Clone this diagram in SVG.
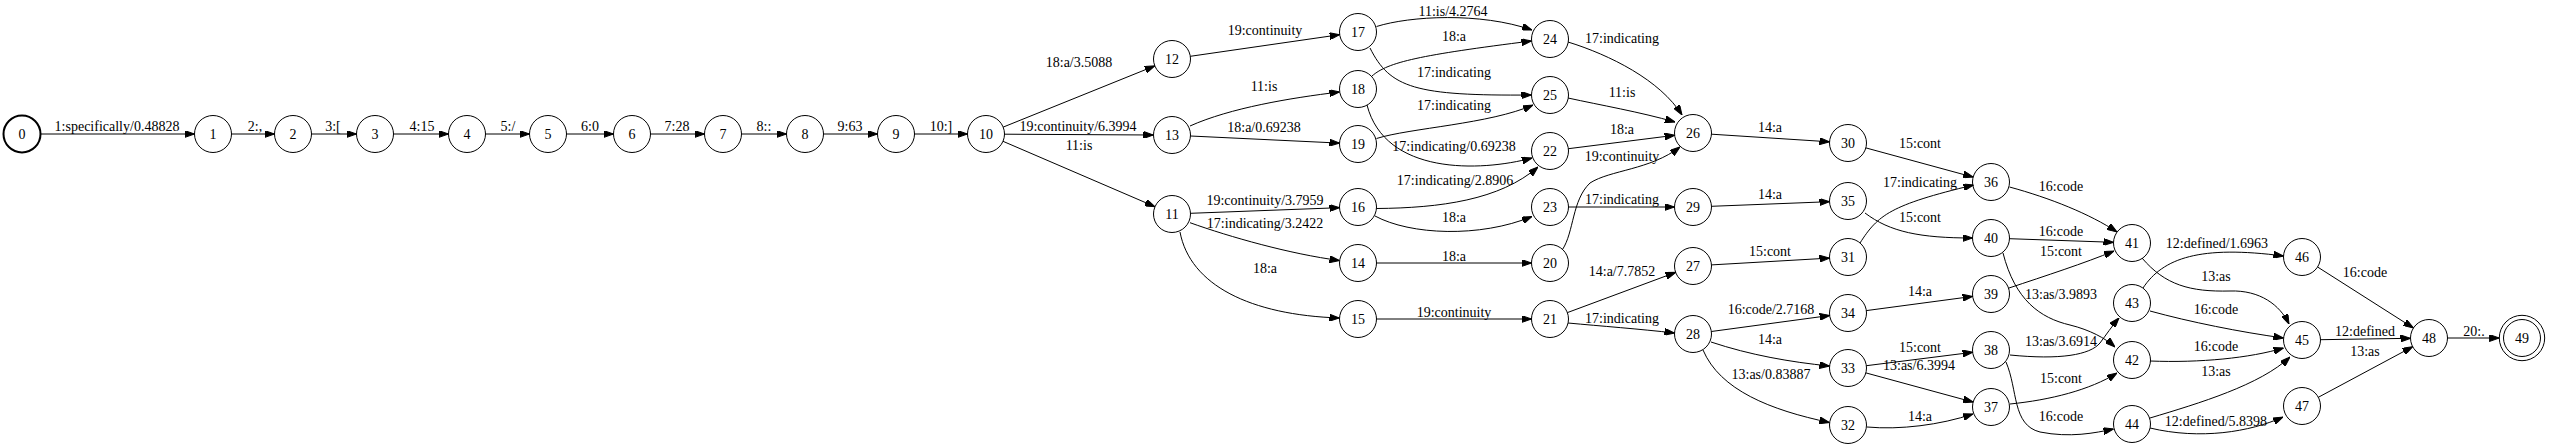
<svg xmlns="http://www.w3.org/2000/svg" width="2550" height="448" viewBox="0 0 2550 448">
<style>
.node circle{fill:none;stroke:#000;stroke-width:1}
.node text,.lbl text{font-family:"Liberation Serif","Times New Roman",serif;font-size:14px;fill:#000;text-anchor:middle}
.edges path{fill:none;stroke:#000;stroke-width:1;marker-end:url(#arr)}
</style>
<defs>
<marker id="arr" viewBox="0 0 10 7" refX="10" refY="3.5" markerWidth="10" markerHeight="7" markerUnits="userSpaceOnUse" orient="auto">
<path d="M0,0 L10,3.5 L0,7 z" fill="#000" stroke="#000" stroke-width="1"/>
</marker>
</defs>
<rect width="2550" height="448" fill="#fff"/>
<g id="edges" class="edges">
<path d="M40.5,134 L194.5,134"/>
<path d="M231.5,134 L274.5,134"/>
<path d="M311.5,134 L356.5,134"/>
<path d="M393.5,134 L448.5,134"/>
<path d="M485.5,134 L529.5,134"/>
<path d="M566.5,134 L613.5,134"/>
<path d="M650.5,134 L704.5,134"/>
<path d="M741.5,134 L786.5,134"/>
<path d="M823.5,134 L877.5,134"/>
<path d="M914.5,134 L967.5,134"/>
<path d="M1003.2,127.1 L1154.8,65.9"/>
<path d="M1004.5,134.2 L1153.5,135"/>
<path d="M1003,141.3 L1155,206.7"/>
<path d="M1190.3,56.3 L1339.7,34.7"/>
<path d="M1190,126 C1230,108 1290,98 1339.5,92"/>
<path d="M1190.5,136 L1339.5,143.1"/>
<path d="M1190.5,213.3 L1339.5,207.7"/>
<path d="M1190,222.7 C1230,237 1290,254 1339.5,260.5"/>
<path d="M1180,232 C1190,285 1250,315 1339.5,318"/>
<path d="M1376.5,26.5 C1410,16 1480,12 1532,30"/>
<path d="M1370,48 C1390,88 1415,96 1531.5,95"/>
<path d="M1372,76 C1388,62 1420,55 1531.5,41"/>
<path d="M1367,105 C1385,175 1480,172 1532,158"/>
<path d="M1376.5,138.5 C1410,128 1490,124 1533,105"/>
<path d="M1376.5,208.5 C1440,208 1500,200 1538,167"/>
<path d="M1375,216 C1410,235 1480,238 1532,216.5"/>
<path d="M1376.5,263 L1531.5,263"/>
<path d="M1376.5,319 L1531.5,319"/>
<path d="M1562.5,249.5 C1574,232 1572,200 1590,183 C1610,170 1650,170 1680,147"/>
<path d="M1568.5,207 L1674.5,207"/>
<path d="M1568.4,148.7 L1674.6,135.3"/>
<path d="M1568,98 C1600,105 1640,112 1675,122"/>
<path d="M1568,42 C1610,55 1660,80 1682,115"/>
<path d="M1711.5,134.2 L1829.5,141.8"/>
<path d="M1711.5,206.3 L1829.5,201.7"/>
<path d="M1567.4,312.6 L1675.6,272.4"/>
<path d="M1568,323 C1600,326 1640,329 1674.5,333"/>
<path d="M1711.5,264.9 L1829.5,258.1"/>
<path d="M1711.3,331.5 L1829.7,315.5"/>
<path d="M1711,342 C1750,355 1790,362 1829.5,366"/>
<path d="M1703,350 C1720,390 1770,410 1829.5,422.5"/>
<path d="M1865.9,147.9 L1973.1,177.1"/>
<path d="M1860,243 C1878,215 1890,205 1973.5,185"/>
<path d="M1865,213 C1890,232 1920,238 1972.5,238"/>
<path d="M1866.3,310.6 L1972.7,296.4"/>
<path d="M1866.4,365.7 L1972.6,352.3"/>
<path d="M1865.9,372.9 L1973.1,402.1"/>
<path d="M1867,427 C1900,430 1940,425 1973,414"/>
<path d="M2009.5,187 C2050,198 2090,214 2117,232"/>
<path d="M2009.5,238.7 L2113.5,242.3"/>
<path d="M2009,288 C2045,276 2085,263 2114,251"/>
<path d="M2003,253 C2015,300 2040,318 2070,325 C2090,330 2105,338 2115,347"/>
<path d="M2010,355 C2060,360 2090,355 2100,343 C2106,335 2112,326 2119,318"/>
<path d="M2006,362 C2018,390 2012,425 2040,432 C2070,438 2095,433 2113.5,429"/>
<path d="M2010,404 C2050,400 2090,390 2117,373"/>
<path d="M2142,258 C2165,285 2190,292 2230,291 C2260,290 2280,305 2289,324"/>
<path d="M2143,288 C2163,258 2200,245 2283.5,256"/>
<path d="M2150,311 C2190,322 2240,332 2283.5,338"/>
<path d="M2150,361 C2200,363 2250,358 2283.5,348"/>
<path d="M2150,418 C2200,403 2260,385 2290,357"/>
<path d="M2150,428 C2200,440 2250,432 2283,417"/>
<path d="M2317.6,267 L2413.4,328"/>
<path d="M2320.5,339.7 L2410.5,338.3"/>
<path d="M2318.3,397.3 L2412.7,346.7"/>
<path d="M2447.5,338 L2499.3,338"/>
</g>
<g id="edge-labels" class="lbl">
<text x="117" y="131">1:specifically/0.48828</text>
<text x="255" y="131">2:,</text>
<text x="333" y="131">3:[</text>
<text x="422" y="131">4:15</text>
<text x="508" y="131">5:/</text>
<text x="590" y="131">6:0</text>
<text x="677" y="131">7:28</text>
<text x="764" y="131">8::</text>
<text x="850" y="131">9:63</text>
<text x="941" y="131">10:]</text>
<text x="1079" y="67">18:a/3.5088</text>
<text x="1078" y="131">19:continuity/6.3994</text>
<text x="1079" y="150">11:is</text>
<text x="1265" y="35">19:continuity</text>
<text x="1264" y="91">11:is</text>
<text x="1264" y="132">18:a/0.69238</text>
<text x="1265" y="205">19:continuity/3.7959</text>
<text x="1265" y="228">17:indicating/3.2422</text>
<text x="1265" y="273">18:a</text>
<text x="1453" y="16">11:is/4.2764</text>
<text x="1454" y="41">18:a</text>
<text x="1454" y="77">17:indicating</text>
<text x="1454" y="110">17:indicating</text>
<text x="1454" y="151">17:indicating/0.69238</text>
<text x="1455" y="185">17:indicating/2.8906</text>
<text x="1454" y="222">18:a</text>
<text x="1454" y="261">18:a</text>
<text x="1454" y="317">19:continuity</text>
<text x="1622" y="43">17:indicating</text>
<text x="1622" y="97">11:is</text>
<text x="1622" y="134">18:a</text>
<text x="1622" y="161">19:continuity</text>
<text x="1622" y="204">17:indicating</text>
<text x="1622" y="276">14:a/7.7852</text>
<text x="1622" y="323">17:indicating</text>
<text x="1770" y="132">14:a</text>
<text x="1770" y="199">14:a</text>
<text x="1770" y="256">15:cont</text>
<text x="1771" y="314">16:code/2.7168</text>
<text x="1770" y="344">14:a</text>
<text x="1771" y="379">13:as/0.83887</text>
<text x="1920" y="148">15:cont</text>
<text x="1920" y="187">17:indicating</text>
<text x="1920" y="222">15:cont</text>
<text x="1920" y="296">14:a</text>
<text x="1920" y="352">15:cont</text>
<text x="1919" y="370">13:as/6.3994</text>
<text x="1920" y="421">14:a</text>
<text x="2061" y="191">16:code</text>
<text x="2061" y="236">16:code</text>
<text x="2061" y="256">15:cont</text>
<text x="2061" y="299">13:as/3.9893</text>
<text x="2061" y="346">13:as/3.6914</text>
<text x="2061" y="383">15:cont</text>
<text x="2061" y="421">16:code</text>
<text x="2217" y="248">12:defined/1.6963</text>
<text x="2216" y="281">13:as</text>
<text x="2216" y="314">16:code</text>
<text x="2216" y="351">16:code</text>
<text x="2216" y="376">13:as</text>
<text x="2216" y="426">12:defined/5.8398</text>
<text x="2365" y="277">16:code</text>
<text x="2365" y="336">12:defined</text>
<text x="2365" y="356">13:as</text>
<text x="2474" y="336">20:.</text>
</g>
<g id="n0" class="node"><circle cx="22" cy="134" r="18.5" style="stroke-width:2"/><text x="22" y="139">0</text></g>
<g id="n1" class="node"><circle cx="213" cy="134" r="18.5"/><text x="213" y="139">1</text></g>
<g id="n2" class="node"><circle cx="293" cy="134" r="18.5"/><text x="293" y="139">2</text></g>
<g id="n3" class="node"><circle cx="375" cy="134" r="18.5"/><text x="375" y="139">3</text></g>
<g id="n4" class="node"><circle cx="467" cy="134" r="18.5"/><text x="467" y="139">4</text></g>
<g id="n5" class="node"><circle cx="548" cy="134" r="18.5"/><text x="548" y="139">5</text></g>
<g id="n6" class="node"><circle cx="632" cy="134" r="18.5"/><text x="632" y="139">6</text></g>
<g id="n7" class="node"><circle cx="723" cy="134" r="18.5"/><text x="723" y="139">7</text></g>
<g id="n8" class="node"><circle cx="805" cy="134" r="18.5"/><text x="805" y="139">8</text></g>
<g id="n9" class="node"><circle cx="896" cy="134" r="18.5"/><text x="896" y="139">9</text></g>
<g id="n10" class="node"><circle cx="986" cy="134" r="18.5"/><text x="986" y="139">10</text></g>
<g id="n12" class="node"><circle cx="1172" cy="59" r="18.5"/><text x="1172" y="64">12</text></g>
<g id="n13" class="node"><circle cx="1172" cy="135" r="18.5"/><text x="1172" y="140">13</text></g>
<g id="n11" class="node"><circle cx="1172" cy="214" r="18.5"/><text x="1172" y="219">11</text></g>
<g id="n17" class="node"><circle cx="1358" cy="32" r="18.5"/><text x="1358" y="37">17</text></g>
<g id="n18" class="node"><circle cx="1358" cy="89" r="18.5"/><text x="1358" y="94">18</text></g>
<g id="n19" class="node"><circle cx="1358" cy="144" r="18.5"/><text x="1358" y="149">19</text></g>
<g id="n16" class="node"><circle cx="1358" cy="207" r="18.5"/><text x="1358" y="212">16</text></g>
<g id="n14" class="node"><circle cx="1358" cy="263" r="18.5"/><text x="1358" y="268">14</text></g>
<g id="n15" class="node"><circle cx="1358" cy="319" r="18.5"/><text x="1358" y="324">15</text></g>
<g id="n24" class="node"><circle cx="1550" cy="39" r="18.5"/><text x="1550" y="44">24</text></g>
<g id="n25" class="node"><circle cx="1550" cy="95" r="18.5"/><text x="1550" y="100">25</text></g>
<g id="n22" class="node"><circle cx="1550" cy="151" r="18.5"/><text x="1550" y="156">22</text></g>
<g id="n23" class="node"><circle cx="1550" cy="207" r="18.5"/><text x="1550" y="212">23</text></g>
<g id="n20" class="node"><circle cx="1550" cy="263" r="18.5"/><text x="1550" y="268">20</text></g>
<g id="n21" class="node"><circle cx="1550" cy="319" r="18.5"/><text x="1550" y="324">21</text></g>
<g id="n26" class="node"><circle cx="1693" cy="133" r="18.5"/><text x="1693" y="138">26</text></g>
<g id="n29" class="node"><circle cx="1693" cy="207" r="18.5"/><text x="1693" y="212">29</text></g>
<g id="n27" class="node"><circle cx="1693" cy="266" r="18.5"/><text x="1693" y="271">27</text></g>
<g id="n28" class="node"><circle cx="1693" cy="334" r="18.5"/><text x="1693" y="339">28</text></g>
<g id="n30" class="node"><circle cx="1848" cy="143" r="18.5"/><text x="1848" y="148">30</text></g>
<g id="n35" class="node"><circle cx="1848" cy="201" r="18.5"/><text x="1848" y="206">35</text></g>
<g id="n31" class="node"><circle cx="1848" cy="257" r="18.5"/><text x="1848" y="262">31</text></g>
<g id="n34" class="node"><circle cx="1848" cy="313" r="18.5"/><text x="1848" y="318">34</text></g>
<g id="n33" class="node"><circle cx="1848" cy="368" r="18.5"/><text x="1848" y="373">33</text></g>
<g id="n32" class="node"><circle cx="1848" cy="425" r="18.5"/><text x="1848" y="430">32</text></g>
<g id="n36" class="node"><circle cx="1991" cy="182" r="18.5"/><text x="1991" y="187">36</text></g>
<g id="n40" class="node"><circle cx="1991" cy="238" r="18.5"/><text x="1991" y="243">40</text></g>
<g id="n39" class="node"><circle cx="1991" cy="294" r="18.5"/><text x="1991" y="299">39</text></g>
<g id="n38" class="node"><circle cx="1991" cy="350" r="18.5"/><text x="1991" y="355">38</text></g>
<g id="n37" class="node"><circle cx="1991" cy="407" r="18.5"/><text x="1991" y="412">37</text></g>
<g id="n41" class="node"><circle cx="2132" cy="243" r="18.5"/><text x="2132" y="248">41</text></g>
<g id="n43" class="node"><circle cx="2132" cy="303" r="18.5"/><text x="2132" y="308">43</text></g>
<g id="n42" class="node"><circle cx="2132" cy="360" r="18.5"/><text x="2132" y="365">42</text></g>
<g id="n44" class="node"><circle cx="2132" cy="424" r="18.5"/><text x="2132" y="429">44</text></g>
<g id="n46" class="node"><circle cx="2302" cy="257" r="18.5"/><text x="2302" y="262">46</text></g>
<g id="n45" class="node"><circle cx="2302" cy="340" r="18.5"/><text x="2302" y="345">45</text></g>
<g id="n47" class="node"><circle cx="2302" cy="406" r="18.5"/><text x="2302" y="411">47</text></g>
<g id="n48" class="node"><circle cx="2429" cy="338" r="18.5"/><text x="2429" y="343">48</text></g>
<g id="n49" class="node"><circle cx="2522" cy="338" r="18.5"/><circle cx="2522" cy="338" r="22.7"/><text x="2522" y="343">49</text></g>
</svg>
